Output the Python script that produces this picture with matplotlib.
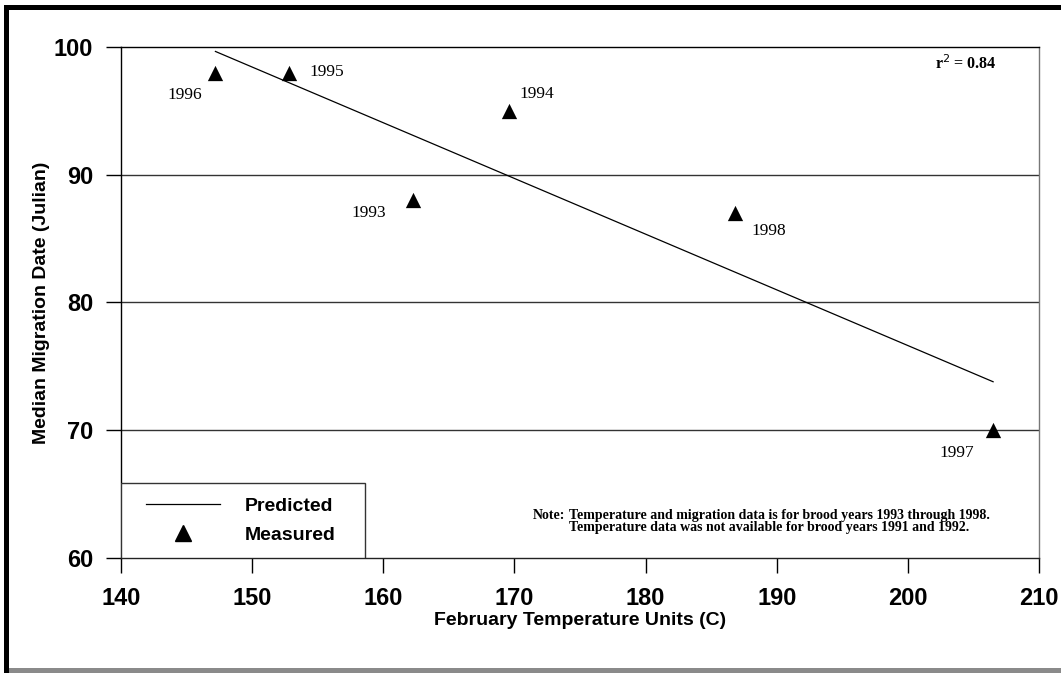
import numpy as np
import matplotlib
matplotlib.use("Agg")
import matplotlib.pyplot as plt
from matplotlib.patches import Rectangle
from matplotlib.lines import Line2D

# Data
years = ["1993", "1994", "1995", "1996", "1997", "1998"]
temp_units = [162.3, 169.6, 152.8, 147.2, 206.5, 186.8]
migration_date = [88, 95, 98, 98, 70, 87]
x_ticks = [140, 150, 160, 170, 180, 190, 200, 210]
y_ticks = [60, 70, 80, 90, 100]
label_offsets = {"1993": (-45, -13), "1994": (28, 17), "1995": (38, 1),
                 "1996": (-31, -22), "1997": (-36, -23), "1998": (34, -18)}

W, H = 1061, 673
fig = plt.figure(figsize=(W / 100, H / 100), dpi=100)
fig.patch.set_facecolor("white")

def px(x0, y0, x1, y1):
    return [x0 / W, 1 - y1 / H, (x1 - x0) / W, (y1 - y0) / H]

ax = fig.add_axes(px(121, 47, 1039, 558))
AXW, AXH = 918.0, 511.0

sans = "Liberation Sans"
serif = "Liberation Serif"

# regression line
x = np.array(temp_units)
y = np.array(migration_date)
slope, intercept = np.polyfit(x, y, 1)
r2 = np.corrcoef(x, y)[0, 1] ** 2
xl = np.array([x.min(), x.max()])
ax.plot(xl, slope * xl + intercept, color="black", lw=0.9, zorder=3)

ax.scatter(x, y, marker="^", s=11 ** 2, color="black", zorder=4, linewidths=0)

for yr, xv, yv in zip(years, temp_units, migration_date):
    dx, dy = label_offsets[yr]
    ax.annotate(yr, (xv, yv), xytext=(dx, dy), textcoords="offset pixels",
                ha="center", va="center", fontsize=12.5, family=serif)

ax.set_xlim(140, 210)
ax.set_ylim(60, 100)
ax.set_xticks(x_ticks)
ax.set_yticks(y_ticks)
ax.tick_params(axis="both", direction="out", length=11, width=1.0,
               labelsize=17)
ax.tick_params(axis="x", pad=10)
ax.tick_params(axis="y", pad=9)
for lab in ax.get_xticklabels() + ax.get_yticklabels():
    lab.set_family(sans)
    lab.set_fontweight("bold")

for v in [70, 80, 90]:
    ax.axhline(v, color="#333333", lw=1.0, zorder=1)

ax.spines["top"].set_color("black")
ax.spines["left"].set_color("black")
ax.spines["bottom"].set_color("#222222")
ax.spines["right"].set_color("#777777")
for s in ax.spines.values():
    s.set_linewidth(1.0)

ax.set_xlabel("February Temperature Units (C)", fontsize=14, family=sans,
              fontweight="bold", labelpad=1)
ax.set_ylabel("Median Migration Date (Julian)", fontsize=14, family=sans,
              fontweight="bold", labelpad=3)

ax.text(0.954, 0.967, r"r$^2$ = %.2f" % r2, transform=ax.transAxes,
        ha="right", va="center", fontsize=11.5, family=serif, fontweight="bold")

fig.text(533 / W, 1 - 519 / H, "Note:", fontsize=10, family=serif,
         fontweight="bold", ha="left", va="baseline")
fig.text(569 / W, 1 - 519 / H,
         "Temperature and migration data is for brood years 1993 through 1998.",
         fontsize=10, family=serif, fontweight="bold", ha="left", va="baseline")
fig.text(569 / W, 1 - 531 / H,
         "Temperature data was not available for brood years 1991 and 1992.",
         fontsize=10, family=serif, fontweight="bold", ha="left", va="baseline")

# legend (frame drawn as its own box)
ax.add_patch(Rectangle((0, 0), (365 - 121) / AXW, (558 - 483) / AXH,
                       transform=ax.transAxes, facecolor="white",
                       edgecolor="#333333", lw=1.0, zorder=5))
handles = [Line2D([0], [0], color="black", lw=0.9),
           Line2D([0], [0], marker="^", color="black", lw=0, markersize=11)]
leg = ax.legend(handles, ["Predicted", "Measured"], loc="upper left",
                bbox_to_anchor=((146 - 121) / AXW, (558 - 497) / AXH),
                borderaxespad=0, borderpad=0, frameon=False,
                prop={"family": sans, "size": 14, "weight": "bold"},
                handlelength=3.8, handletextpad=1.3, labelspacing=0.62)
leg.set_zorder(6)

# figure frame
fig.add_artist(Rectangle((4 / W, 0), 5 / W, 1 - 5 / H, transform=fig.transFigure,
                         color="black", lw=0))
fig.add_artist(Rectangle((4 / W, 1 - 10 / H), 1 - 4 / W, 5 / H,
                         transform=fig.transFigure, color="black", lw=0))
fig.add_artist(Rectangle((9 / W, 0), 1 - 9 / W, 5 / H, transform=fig.transFigure,
                         color="#8a8a8a", lw=0))

fig.savefig("out.png", dpi=100)
